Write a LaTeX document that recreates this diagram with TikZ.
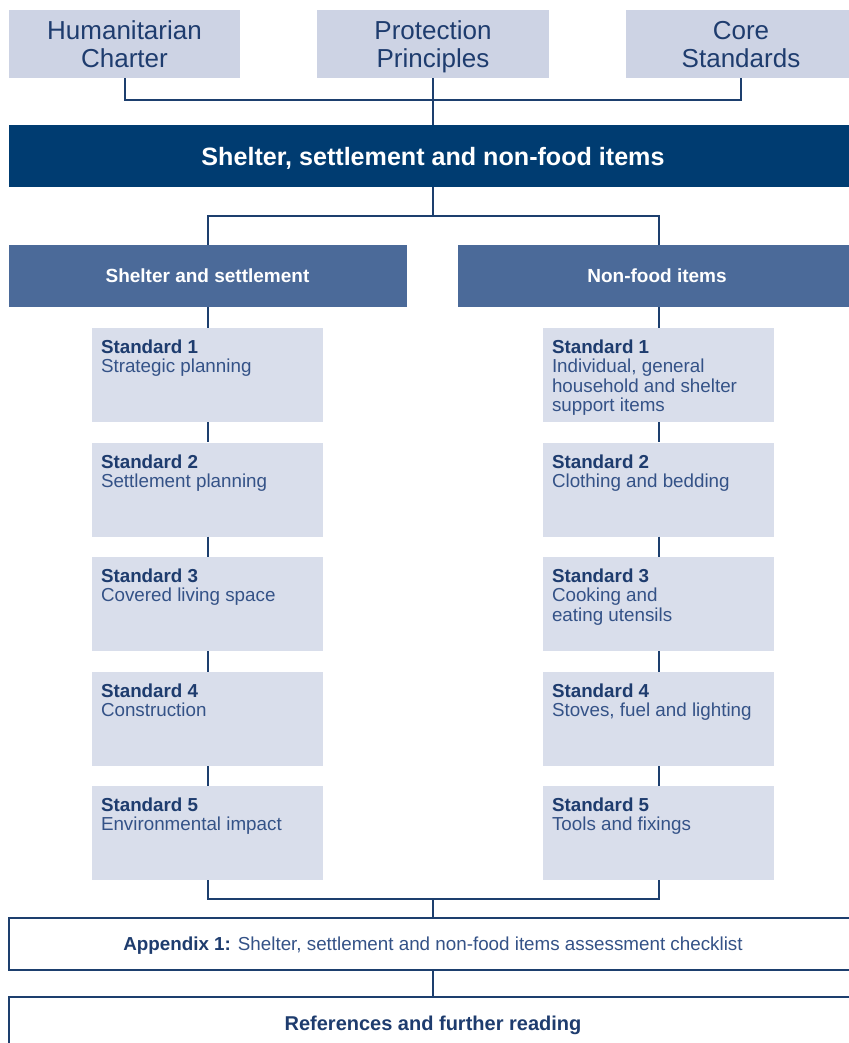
\documentclass[tikz,border=0pt]{standalone}
\usepackage{fontspec}
\setmainfont{Liberation Sans}
\usetikzlibrary{calc}
\definecolor{topfill}{RGB}{205,211,228}
\definecolor{bannerfill}{RGB}{0,60,113}
\definecolor{hdrfill}{RGB}{75,106,153}
\definecolor{stdfill}{RGB}{217,222,235}
\definecolor{linecol}{RGB}{29,63,110}
\definecolor{navytext}{RGB}{30,60,110}
\definecolor{desccol}{RGB}{52,82,135}
\begin{document}
\begin{tikzpicture}[x=1pt,y=-1pt,
  topbox/.style={fill=topfill, minimum height=68pt, inner sep=0pt, align=center, text=navytext, text depth=0pt, font=\fontsize{26}{28}\selectfont},
  bannerbox/.style={fill=bannerfill, minimum width=848pt, minimum height=62pt, inner sep=0pt, text=white, text depth=0pt, font=\bfseries\fontsize{25.1}{28}\selectfont},
  hdrbox/.style={fill=hdrfill, minimum width=398pt, minimum height=62pt, inner sep=0pt, text=white, text depth=0pt, font=\bfseries\fontsize{19}{22}\selectfont},
  stdbox/.style={fill=stdfill, minimum width=231pt, minimum height=94pt, inner sep=0pt},
  stdtext/.style={anchor=north west, inner sep=0pt, align=left, text=desccol, font=\fontsize{18.8}{19.3}\selectfont},
  outbox/.style={draw=linecol, line width=1.6pt, fill=white, minimum width=848pt, minimum height=52pt, inner sep=0pt, text=desccol, text depth=0pt, font=\fontsize{18.8}{22}\selectfont},
  conn/.style={draw=linecol, line width=2pt}
]
\useasboundingbox (0,0) rectangle (848,1043);
% top boxes
\node[topbox, minimum width=231pt] (hc) at (124.5,44) {Humanitarian\\Charter};
\node[topbox, minimum width=232pt] (pp) at (433,44) {Protection\\Principles};
\node[topbox, minimum width=230pt] (cs) at (741,44) {Core\\Standards};
% banner
\node[bannerbox] (ssn) at (433,156) {Shelter, settlement and non-food items};
% headers
\node[hdrbox] (hl) at (207.5,276) {Shelter and settlement};
\node[hdrbox] (hr) at (657,276) {Non-food items};
% standards left
\node[stdbox] (l1) at (207.5,375) {};
\node[stdbox] (l2) at (207.5,489.5) {};
\node[stdbox] (l3) at (207.5,604) {};
\node[stdbox] (l4) at (207.5,719) {};
\node[stdbox] (l5) at (207.5,833) {};
% standards right
\node[stdbox] (r1) at (658.5,375) {};
\node[stdbox] (r2) at (658.5,489.5) {};
\node[stdbox] (r3) at (658.5,604) {};
\node[stdbox] (r4) at (658.5,719) {};
\node[stdbox] (r5) at (658.5,833) {};
% texts
\node[stdtext] (l1t) at ($(l1.north west)+(9,12)$) {\textcolor{navytext}{\bfseries Standard 1}\\Strategic planning};
\node[stdtext] (l2t) at ($(l2.north west)+(9,12)$) {\textcolor{navytext}{\bfseries Standard 2}\\Settlement planning};
\node[stdtext] (l3t) at ($(l3.north west)+(9,12)$) {\textcolor{navytext}{\bfseries Standard 3}\\Covered living space};
\node[stdtext] (l4t) at ($(l4.north west)+(9,12)$) {\textcolor{navytext}{\bfseries Standard 4}\\Construction};
\node[stdtext] (l5t) at ($(l5.north west)+(9,12)$) {\textcolor{navytext}{\bfseries Standard 5}\\Environmental impact};
\node[stdtext] (r1t) at ($(r1.north west)+(9,12)$) {\textcolor{navytext}{\bfseries Standard 1}\\Individual, general\\household and shelter\\support items};
\node[stdtext] (r2t) at ($(r2.north west)+(9,12)$) {\textcolor{navytext}{\bfseries Standard 2}\\Clothing and bedding};
\node[stdtext] (r3t) at ($(r3.north west)+(9,12)$) {\textcolor{navytext}{\bfseries Standard 3}\\Cooking and\\eating utensils};
\node[stdtext] (r4t) at ($(r4.north west)+(9,12)$) {\textcolor{navytext}{\bfseries Standard 4}\\Stoves, fuel and lighting};
\node[stdtext] (r5t) at ($(r5.north west)+(9,12)$) {\textcolor{navytext}{\bfseries Standard 5}\\Tools and fixings};
% bottom boxes
\node[outbox] (app) at (433,944) {\textcolor{navytext}{\bfseries Appendix 1:} Shelter, settlement and non-food items assessment checklist};
\node[outbox, text=navytext, font=\bfseries\fontsize{20}{22}\selectfont] (refs) at (433,1023) {References and further reading};
% junctions
\coordinate (j1) at (433,100);
\coordinate (j2) at (433,216);
\coordinate (j3) at (433,899);
% connectors
\draw[conn] (hc.south) |- (j1);
\draw[conn] (cs.south) |- (j1);
\draw[conn] (pp.south) -- (ssn.north);
\draw[conn] (ssn.south) -- (j2);
\draw[conn] (j2) -| (hl.north);
\draw[conn] (j2) -| (r1.north |- hr.north);
\draw[conn] (hl.south) -- (l1.north);
\draw[conn] (l1.south) -- (l2.north);
\draw[conn] (l2.south) -- (l3.north);
\draw[conn] (l3.south) -- (l4.north);
\draw[conn] (l4.south) -- (l5.north);
\draw[conn] (hr.south -| r1.north) -- (r1.north);
\draw[conn] (r1.south) -- (r2.north);
\draw[conn] (r2.south) -- (r3.north);
\draw[conn] (r3.south) -- (r4.north);
\draw[conn] (r4.south) -- (r5.north);
\draw[conn] (l5.south) |- (j3);
\draw[conn] (r5.south) |- (j3);
\draw[conn] (j3) -- (app.north);
\draw[conn] (app.south) -- (refs.north);
\end{tikzpicture}
\end{document}
